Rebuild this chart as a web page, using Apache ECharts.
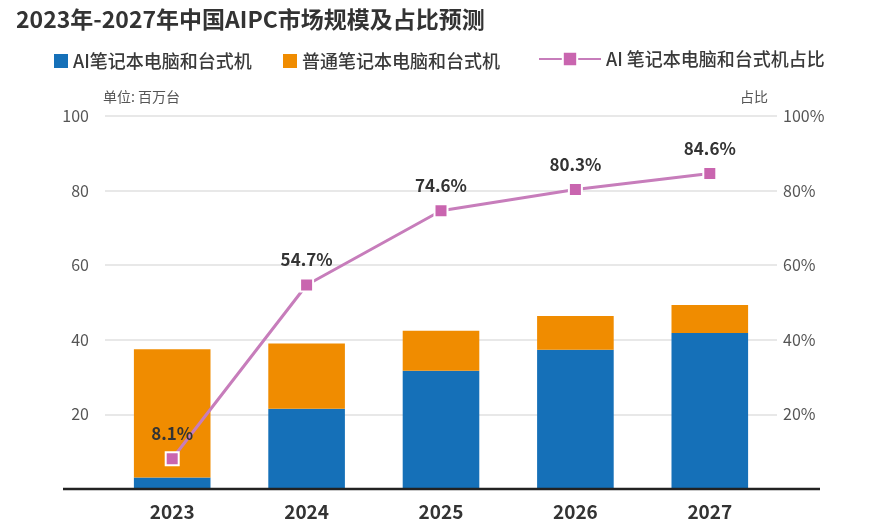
<!DOCTYPE html>
<html><head><meta charset="utf-8">
<script src="https://cdn.jsdelivr.net/npm/echarts@6/dist/echarts.min.js"></script>
<style>html,body{margin:0;padding:0;background:#fff}#c{width:888px;height:525px}</style>
</head><body><div id="c"></div>
<script>
var categories = ['2023','2024','2025','2026','2027'];
var aiPC = [3.1, 21.5, 31.7, 37.3, 41.8];
var normalPC = [34.4, 17.5, 10.7, 9.1, 7.5];
var aiShare = [8.1, 54.7, 74.6, 80.3, 84.6];
var leftTicks = [0, 20, 40, 60, 80, 100];
var rightTicks = ['0%', '20%', '40%', '60%', '80%', '100%'];

var FONT = '"Noto Sans CJK SC", "Noto Sans", sans-serif';
var chart = echarts.init(document.getElementById('c'));
var legendText = { fontSize: 18, fontWeight: 500, color: '#3a3a3a', fontFamily: FONT };
chart.setOption({
  animation: false,
  textStyle: { fontFamily: FONT },
  title: {
    text: '2023年-2027年中国AIPC市场规模及占比预测',
    left: 11, top: 3,
    textStyle: { fontSize: 23, fontWeight: 'bold', color: '#333', fontFamily: FONT }
  },
  legend: [
    { top: 47, left: 49, itemWidth: 14, itemHeight: 14, textStyle: legendText,
      data: [{ name: 'AI笔记本电脑和台式机', icon: 'rect' }] },
    { top: 47, left: 278, itemWidth: 14, itemHeight: 14, textStyle: legendText,
      data: [{ name: '普通笔记本电脑和台式机', icon: 'rect' }] },
    { top: 45, left: 533, itemWidth: 62, itemHeight: 18, textStyle: legendText,
      data: [{ name: 'AI 笔记本电脑和台式机占比' }] }
  ],
  grid: { left: 105, right: 111, top: 116, bottom: 36 },
  xAxis: {
    type: 'category',
    data: categories,
    axisTick: { show: false },
    axisLine: { show: false },
    axisLabel: { fontSize: 19, fontWeight: 'bold', color: '#333', margin: 13 }
  },
  yAxis: [
    {
      type: 'value', min: leftTicks[0], max: leftTicks[leftTicks.length - 1], interval: 20,
      name: '单位: 百万台', nameLocation: 'end', nameGap: 12,
      nameTextStyle: { fontSize: 14, color: '#555', align: 'left', padding: [0, 0, 0, -2] },
      axisLabel: { fontSize: 16, color: '#555', margin: 16, showMinLabel: false },
      axisLine: { show: false }, axisTick: { show: false },
      splitLine: { lineStyle: { color: '#e0e0e0', width: 1.5 } }
    },
    {
      type: 'value', min: 0, max: 100, interval: 20,
      name: '占比', nameLocation: 'end', nameGap: 12,
      nameTextStyle: { fontSize: 14, color: '#555', align: 'right', padding: [0, 9, 0, 0] },
      axisLabel: { fontSize: 16, color: '#555', margin: 6, showMinLabel: false,
        formatter: function (v) { return rightTicks[v / 20]; } },
      axisLine: { show: false }, axisTick: { show: false },
      splitLine: { show: false }
    }
  ],
  series: [
    {
      name: 'AI笔记本电脑和台式机', type: 'bar', stack: 'pc', data: aiPC,
      barCategoryGap: '43%', itemStyle: { color: '#1570B8' }
    },
    {
      name: '普通笔记本电脑和台式机', type: 'bar', stack: 'pc', data: normalPC,
      itemStyle: { color: '#F08C00' }
    },
    {
      name: 'AI 笔记本电脑和台式机占比', type: 'line', yAxisIndex: 1, data: aiShare,
      symbol: 'rect', symbolSize: 13,
      lineStyle: { color: '#C77DBB', width: 3 },
      itemStyle: { color: '#C965AF', borderColor: '#fff', borderWidth: 2 },
      label: { show: true, position: 'top', distance: 9, fontSize: 17, fontWeight: 'bold',
        color: '#333', formatter: function (p) { return p.value.toFixed(1) + '%'; } },
      z: 5
    }
  ]
});
var y0 = chart.convertToPixel({ yAxisIndex: 0 }, 0);
chart.setOption({
  graphic: [{
    type: 'line', z: 10,
    shape: { x1: 63, y1: y0, x2: 820, y2: y0 },
    style: { stroke: '#222', lineWidth: 2.5 }
  }]
});
</script></body></html>
